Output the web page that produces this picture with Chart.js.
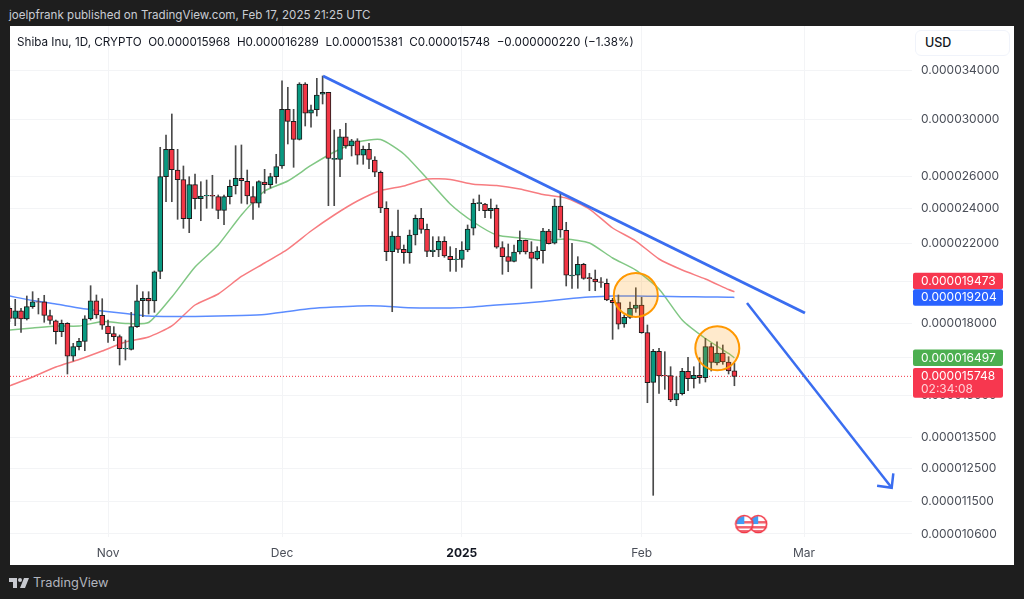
<!DOCTYPE html>
<html>
<head>
<meta charset="utf-8">
<title>Shiba Inu, 1D</title>
<script src="https://cdn.jsdelivr.net/npm/chart.js@4/dist/chart.umd.min.js"></script>
<style>
    html, body { margin: 0; padding: 0; background: #1e1e1e; width: 1024px; height: 599px; overflow: hidden; font-family: Inter, "Noto Sans", sans-serif; }
    #panel { position: absolute; left: 10px; top: 26px; width: 1004px; height: 539px; background: #fff; }
    #chart { position: absolute; left: 0; top: 0; }
    #published { position: absolute; left: 9px; top: 7px; font-size: 11.6px; line-height: 16px; color: #c9ccd3; white-space: pre; }
    #legend { position: absolute; left: 7px; top: 8px; font-size: 11.7px; line-height: 16px; color: #131722; white-space: pre; }
    #currency { position: absolute; left: 905px; top: 4px; width: 84px; height: 24px; padding-left: 9px; border: 1px solid #f0f3fa; border-radius: 6px; font-size: 12.5px; font-weight: 500; line-height: 24px; color: #131722; background: #fff; }
    #brand { position: absolute; left: 9px; top: 574px; color: #b2b5be; font-size: 12.8px; line-height: 18px; display: flex; align-items: center; gap: 4px; }
</style>
</head>
<body>
<div id="published">joelpfrank published on TradingView.com, Feb 17, 2025 21:25 UTC</div>
<div id="panel">
    <canvas id="chart" width="1004" height="539"></canvas>
    <div id="legend">Shiba Inu, 1D, CRYPTO  O0.000015968  H0.000016289  L0.000015381  C0.000015748  −0.000000220 (−1.38%)</div>
    <div id="currency">USD</div>
</div>
<div id="brand">
    <svg width="20" height="11" viewBox="0 0 20 11"><path fill="#c8cad0" d="M0 0h8v10H4V4H0zM11 0a2 2 0 1 1 0 4 2 2 0 0 1 0-4zM15 0h5l-4 10h-5z"/></svg>
    <span>TradingView</span>
</div>

<script>
// prices are in units of 0.000000001, days are counted from Nov 1 2024
const priceUnit = 1e-9;
const firstDay = -17;

const open = [18682, 18220, 18571, 18188, 18760, 18990, 18996, 18340, 18110, 17617, 17994, 16562, 16966, 17197, 18202, 19044, 18358, 17872, 17530, 17398, 16868, 16855, 17841, 19044, 19160, 19030, 20504, 26006, 27858, 26446, 25810, 23400, 25489, 24607, 24776, 24819, 24732, 23899, 24732, 25425, 25900, 25707, 24732, 24325, 25662, 25489, 26006, 26715, 30804, 29889, 28567, 32826, 30497, 30772, 31988, 32149, 27167, 27167, 28754, 28092, 28466, 27443, 27858, 27119, 26295, 24020, 21539, 22407, 21669, 21485, 22463, 23425, 22786, 21539, 21630, 22109, 21292, 21110, 21132, 21630, 22844, 24301, 24282, 23876, 24020, 21757, 21271, 21026, 21523, 22164, 21523, 21164, 21593, 22689, 21999, 24160, 22728, 20264, 20300, 20869, 20177, 20111, 19975, 19896, 19063, 18949, 17962, 18266, 18682, 18836, 17573, 15514, 16771, 15790, 15774, 14838, 15076, 15948, 15655, 15790, 15694, 16966, 16285, 16700, 16326, 15968];
const high = [18760, 19111, 18682, 19271, 19480, 19160, 19305, 18603, 18142, 18142, 18021, 17112, 17327, 18340, 19776, 19320, 19140, 18142, 17841, 17473, 17253, 18497, 19810, 19480, 19480, 20519, 28000, 28879, 30444, 27858, 26715, 26006, 26184, 25681, 25790, 26098, 24838, 24838, 25790, 28113, 28163, 26446, 25361, 25745, 26492, 26230, 27512, 33098, 32555, 30804, 32934, 32934, 31140, 33297, 33494, 32149, 29242, 29294, 29741, 28567, 28610, 28092, 28283, 27347, 26380, 24422, 22649, 23917, 21906, 22745, 23620, 24020, 23092, 22367, 22367, 22367, 21812, 21724, 22087, 23035, 24588, 24838, 24325, 24588, 24221, 22087, 21960, 21906, 22689, 22181, 22087, 21812, 22844, 22786, 24588, 24944, 23191, 21999, 21271, 20921, 20402, 20570, 20177, 20111, 19160, 19320, 18372, 18982, 19674, 19208, 17917, 16855, 16898, 16754, 16134, 15734, 16069, 16520, 16134, 16503, 17327, 17112, 17180, 17039, 16545, 16289];
const low = [18066, 17886, 17591, 18142, 18682, 18419, 18039, 17949, 17082, 17398, 15841, 16366, 16825, 16796, 18142, 18220, 17723, 17154, 17223, 16203, 16407, 16825, 17810, 18295, 18419, 18497, 20126, 24422, 24422, 23365, 22844, 22593, 23978, 23283, 24020, 24020, 23400, 23052, 24282, 24900, 24325, 24282, 23365, 24081, 24944, 25278, 25579, 26560, 28233, 26627, 28516, 29538, 29443, 30291, 31218, 24179, 24179, 26006, 27929, 27395, 26830, 26830, 26533, 26006, 23757, 21057, 18525, 21485, 20921, 20921, 21906, 22559, 21271, 21271, 21271, 21239, 20504, 20504, 20711, 21539, 22463, 23876, 23460, 23425, 21724, 20351, 20483, 20989, 21416, 21416, 19647, 21094, 20921, 21960, 21960, 22333, 19761, 19647, 19647, 20096, 19528, 19528, 19694, 19044, 17283, 17736, 17814, 18220, 18497, 17547, 14739, 11679, 15091, 15243, 14776, 14628, 15027, 15190, 15293, 15475, 15526, 15960, 16204, 16232, 15841, 15381];
const close = [18220, 18571, 18188, 18760, 18996, 18970, 18358, 18128, 17617, 17994, 16562, 16966, 17197, 18202, 19044, 18372, 17904, 17530, 17398, 16881, 16898, 17841, 19044, 19160, 19030, 20483, 26006, 27858, 26466, 25810, 23400, 25489, 24607, 24776, 24819, 24757, 23899, 24732, 25387, 25900, 25745, 24776, 24325, 25681, 25489, 26006, 26668, 30804, 29889, 28567, 32826, 30497, 30772, 31932, 32149, 27236, 27236, 28754, 28092, 28466, 27443, 27858, 27167, 26295, 24039, 21539, 22407, 21669, 21485, 22463, 23425, 22786, 21560, 21630, 22109, 21308, 21110, 21148, 21630, 22803, 24325, 24361, 23876, 24020, 21780, 21271, 21026, 21523, 22164, 21523, 21185, 21576, 22689, 21977, 24160, 22745, 20300, 20315, 20869, 20147, 20126, 19960, 19945, 19077, 18949, 17949, 18266, 18682, 18836, 17573, 15498, 16771, 15762, 15762, 14838, 15076, 15948, 15655, 15790, 15694, 16966, 16313, 16700, 16326, 15960, 15748];

const maDays = [-17, -13, -9, -5, -1, 3, 7, 11, 15, 19, 23, 27, 31, 35, 39, 43, 47, 51, 55, 59, 63, 67, 71, 75, 79, 83, 87, 91, 95, 99, 103, 107, 108];
const maGreen = [17692, 17782, 17872, 17872, 18075, 17985, 18030, 19222, 20727, 21906, 23620, 25088, 25726, 26749, 27671, 28375, 28552, 27533, 25888, 24282, 23208, 22463, 22294, 22153, 22237, 22016, 21201, 20570, 19612, 18142, 17319, 16679, 16497];
const maRed = [15371, 15722, 16122, 16428, 16783, 17167, 17385, 17872, 18840, 19368, 20239, 20937, 21685, 22689, 23620, 24465, 25119, 25406, 25856, 25823, 25515, 25438, 25214, 24869, 24651, 23978, 22861, 22126, 21148, 20570, 20111, 19587, 19473];
const maBlue = [19271, 19053, 18887, 18698, 18557, 18442, 18326, 18303, 18303, 18326, 18350, 18396, 18534, 18674, 18745, 18793, 18793, 18722, 18698, 18698, 18745, 18840, 18911, 19006, 19125, 19222, 19271, 19271, 19256, 19237, 19222, 19213, 19204];

const trendDays = [37.07, 120.17];
const trendPrices = [33494, 18465];
const arrowDays = [110.17, 135.12];
const arrowPrices = [18935, 11904];
const arrowHeadDays = [132.6, 135.12, 135.4];
const arrowHeadPrices = [11964, 11904, 12343];
const circleDays = [91, 105.05];
const circlePrices = [19318, 16897];
const eventDays = [112.1, 109.7];
const eventPrices = [10866, 10866];

const yTicks = [34000, 30000, 26000, 24000, 22000, 20000, 18000, 16500, 15000, 13500, 12500, 11500, 10600];
const xTickDays = [0, 30, 61, 92, 120];
const xTickLabels = ["Nov", "Dec", "2025", "Feb", "Mar"];

const lastPrice = close[close.length - 1];
const countdown = "02:34:08";

const RED = "#f23645";
const GREEN = "#089981";
const BLUE_DRAW = "#3a6df0";
const TEXT = "#4a4e58";
const AXIS_FONT = "Inter, 'Noto Sans', sans-serif";

function fmt(v) {
    return (v * priceUnit).toFixed(9);
}

function pts(xs, ys) {
    return xs.map((x, i) => ({ x: x, y: ys[i] }));
}

const days = open.map((_, i) => firstDay + i);

function flagIcon() {
    const c = document.createElement("canvas");
    c.width = 20;
    c.height = 20;
    const g = c.getContext("2d");
    g.save();
    g.beginPath();
    g.arc(10, 10, 8, 0, Math.PI * 2);
    g.fillStyle = "#fff";
    g.fill();
    g.clip();
    g.fillStyle = "#f0616d";
    g.fillRect(0, 7, 20, 2.5);
    g.fillRect(0, 12, 20, 2.5);
    g.fillRect(0, 16, 20, 2);
    g.fillStyle = "#3f9cf5";
    g.fillRect(2, 2, 8, 8);
    g.restore();
    g.beginPath();
    g.arc(10, 10, 8.5, 0, Math.PI * 2);
    g.lineWidth = 1.6;
    g.strokeStyle = "#f23645";
    g.stroke();
    return c;
}

function lineSet(data, color, width, order, extra) {
    return Object.assign({
        type: "line",
        data: data,
        borderColor: color,
        borderWidth: width,
        pointRadius: 0,
        tension: 0,
        fill: false,
        order: order,
    }, extra || {});
}

// last price tags on the axis, like TradingView paints them over the tick labels
const priceTags = {
    id: "priceTags",
    afterDraw(chart) {
        const y = chart.scales.y;
        const ctx = chart.ctx;
        const h = 16.5;
        const left = 903, w = 90;
        const green = y.getPixelForValue(maGreen[maGreen.length - 1]);
        const blue = y.getPixelForValue(maBlue[maBlue.length - 1]);
        const last = y.getPixelForValue(lastPrice);
        const red = Math.min(y.getPixelForValue(maRed[maRed.length - 1]), blue - h);

        ctx.save();
        ctx.font = "12px " + AXIS_FONT;
        ctx.textBaseline = "middle";
        ctx.textAlign = "left";

        const tag = (cy, color, text) => {
            ctx.fillStyle = color;
            ctx.beginPath();
            ctx.roundRect(left, cy - h / 2, w, h, 2);
            ctx.fill();
            ctx.fillStyle = "#fff";
            ctx.fillText(text, left + 8, cy + 0.5);
        };
        tag(red, "#f7374f", fmt(maRed[maRed.length - 1]));
        tag(blue, "#2962ff", fmt(maBlue[maBlue.length - 1]));
        tag(green, "#4caf50", fmt(maGreen[maGreen.length - 1]));

        ctx.fillStyle = "#f7374f";
        ctx.beginPath();
        ctx.roundRect(left, last - 8.3, w, 29.7, 2);
        ctx.fill();
        ctx.fillStyle = "#fff";
        ctx.fillText(fmt(lastPrice), left + 8, last + 0.5);
        ctx.fillStyle = "#ffd0d6";
        ctx.fillText(countdown, left + 8, last + 13);
        ctx.restore();
    }
};

const isYearTick = (ctx) => ctx.tick && ctx.tick.value === 61;

const chart = new Chart(document.getElementById("chart"), {
    type: "bar",
    data: {
        datasets: [
            lineSet(pts(maDays, maBlue), "#5b8cff", 1.5, 9, { tension: 0.2 }),
            lineSet(pts(maDays, maRed), "#f77c80", 1.5, 9, { tension: 0.2 }),
            lineSet(pts(maDays, maGreen), "#81c784", 1.5, 9, { tension: 0.2 }),
            lineSet(pts([-16.9, 138.62], [lastPrice, lastPrice]), RED, 1, 8, { borderDash: [1, 2] }),
            {
                type: "bar",
                data: days.map((d, i) => ({ x: d, y: [low[i], high[i]] })),
                backgroundColor: "#4a4a4a",
                barThickness: 1,
                grouped: false,
                order: 7,
            },
            {
                type: "bar",
                data: days.map((d, i) => ({ x: d, y: [open[i], close[i]] })),
                backgroundColor: close.map((c, i) => (c >= open[i] ? GREEN : RED)),
                borderColor: "#1c1c1c",
                borderWidth: 1,
                borderSkipped: false,
                barThickness: 5,
                grouped: false,
                order: 6,
            },
            lineSet(pts(trendDays, trendPrices), BLUE_DRAW, 3, 3),
            lineSet(pts(arrowDays, arrowPrices), BLUE_DRAW, 2.5, 3),
            lineSet(pts(arrowHeadDays, arrowHeadPrices), BLUE_DRAW, 2.5, 3),
            lineSet(pts(circleDays, circlePrices), "#ff9800", 0, 2, {
                showLine: false,
                pointRadius: 22,
                pointBorderWidth: 2,
                pointBorderColor: "#ff9800",
                pointBackgroundColor: "rgba(255, 152, 0, 0.2)",
            }),
            lineSet(pts(eventDays, eventPrices), "#f23645", 0, 1, {
                showLine: false,
                pointRadius: 9,
                pointStyle: flagIcon(),
            }),
        ],
    },
    options: {
        responsive: false,
        animation: false,
        events: [],
        layout: { padding: 0, autoPadding: false },
        plugins: { legend: { display: false }, tooltip: { enabled: false }, title: { display: false } },
        scales: {
            x: {
                type: "linear",
                offset: false,
                min: -16.9,
                max: 138.62,
                afterBuildTicks: (scale) => { scale.ticks = xTickDays.map((d) => ({ value: d })); },
                afterFit: (scale) => { scale.height = 28; scale.paddingLeft = 0; scale.paddingRight = 0; },
                grid: { color: "#f3f4f6", drawTicks: false, offset: false },
                border: { display: false },
                ticks: {
                    autoSkip: false,
                    maxRotation: 0,
                    padding: 9,
                    color: (ctx) => (isYearTick(ctx) ? "#131722" : TEXT),
                    font: (ctx) => ({ family: AXIS_FONT, size: 12, weight: isYearTick(ctx) ? "700" : "400" }),
                    callback: (v) => xTickLabels[xTickDays.indexOf(v)],
                },
            },
            y: {
                type: "logarithmic",
                position: "right",
                bounds: "data",
                min: 10518,
                max: 37975,
                afterBuildTicks: (scale) => { scale.ticks = yTicks.map((v) => ({ value: v })); },
                // the tick padding would otherwise push the plot area down
                afterFit: (scale) => { scale.width = 102; scale.paddingTop = 0; scale.paddingBottom = 0; },
                grid: { color: "#f3f4f6", drawTicks: false },
                border: { display: false },
                ticks: {
                    autoSkip: false,
                    padding: 9,
                    color: TEXT,
                    font: { family: AXIS_FONT, size: 12 },
                    callback: (v) => fmt(v),
                },
            },
        },
    },
    plugins: [priceTags],
});
</script>
</body>
</html>
